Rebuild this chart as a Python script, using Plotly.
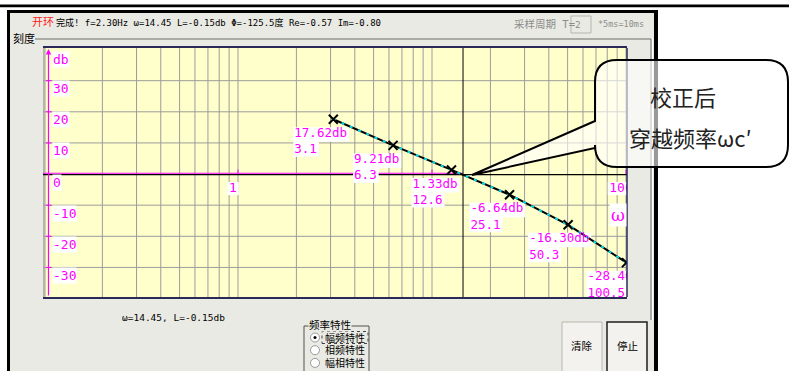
import plotly.graph_objects as go

W, H = 789, 371

# ---------------- data ----------------
omega = [3.1, 6.3, 12.6, 25.1, 50.3, 100.5]          # rad/s
gain_db = [17.62, 9.21, 1.33, -6.64, -16.30, -28.46]  # dB
y_ticks = [30, 20, 10, 0, -10, -20, -30]
x_grid = [0.1, 0.2, 0.3, 0.4, 0.5, 0.6, 0.7, 0.8, 0.9,
          1, 2, 3, 4, 5, 6, 7, 8, 9,
          10, 20, 30, 40, 50, 60, 70, 80, 90, 100]
x_label_vals = [1, 100]
x_tick_marks = [1, 10, 100]
wc = 14.45          # crossover frequency (cursor)
Lc = -0.15          # gain at cursor
f_hz = 2.30
phi_deg = -125.5
re_val = -0.57
im_val = -0.80
T_sample = 2
radio_items = ["幅频特性", "相频特性", "幅相特性"]

# ---------------- geometry ----------------
PL, PR, PT, PB = 43, 627, 48, 297
XR = [-1.005, 2.005]
YR = [-39.5, 40.5]
ppd = (PR - PL) / (XR[1] - XR[0])
ppu = (PB - PT) / (YR[1] - YR[0])
XMIN, XMAX = 10 ** XR[0], 10 ** XR[1]


def PX(x):
    return x / W


def PY(y):
    return 1 - y / H


def sx(w, dx):
    return w * 10 ** (dx / ppd)


def sy(v, dy):
    return v + dy / ppu


MAG = "#FF00FF"
MONO = "DejaVu Sans Mono"
CJK = "DejaVu Sans Mono, Noto Sans CJK SC"
WIN = "#EAEAE4"
GRID = "#9C9C9C"
LFS = 12.5                 # label font size
CHW = 0.602 * LFS          # mono char width

shapes = []
annos = []


def prect(x0, y0, x1, y1, fill=None, line=None, lw=1, layer="below", dash=None):
    d = dict(type="rect", xref="paper", yref="paper",
             x0=PX(x0), x1=PX(x1), y0=PY(y1), y1=PY(y0), layer=layer,
             fillcolor=fill if fill else "rgba(0,0,0,0)",
             line=dict(color=line if line else "rgba(0,0,0,0)", width=lw if line else 0))
    if dash:
        d["line"]["dash"] = dash
    shapes.append(d)


def pline(x0, y0, x1, y1, color, lw=1, layer="below"):
    shapes.append(dict(type="line", xref="paper", yref="paper",
                       x0=PX(x0), x1=PX(x1), y0=PY(y0), y1=PY(y1),
                       line=dict(color=color, width=lw), layer=layer))


def ptext(x, y, text, size=11, color="#000", family=CJK, xanchor="left", bg=None):
    a = dict(xref="paper", yref="paper", x=PX(x), y=PY(y), text=text, showarrow=False,
             xanchor=xanchor, yanchor="middle",
             font=dict(family=family, size=size, color=color), borderpad=0)
    if bg:
        a["bgcolor"] = bg
    annos.append(a)


def drect(xa, ya, dx0, dx1, dy0, dy1, fill="#FFFFFF"):
    """white box around a data anchor, offsets in pixels (dy positive = up)"""
    shapes.append(dict(type="rect", xref="x", yref="y",
                       x0=sx(xa, dx0), x1=sx(xa, dx1), y0=sy(ya, dy0), y1=sy(ya, dy1),
                       fillcolor=fill, line=dict(width=0), layer="below"))


# ---------------- window chrome ----------------
prect(0, 4.5, W, 7.2, fill="#000")
prect(7, 10, 658, H + 5, fill="#000")
prect(10, 13, 654, H + 5, fill=WIN)
prect(PL, PT, PR, PB, fill="#FFFFCC")
prect(PL, PT, PL + 3, PB, fill="#CFCFB8")
# group box "刻度"
pline(35, 39, 651, 39, "#6a6a6a", 1)
pline(651, 39, 651, 320, "#6a6a6a", 1)
pline(652.5, 39, 652.5, 320, "#FFFFFF", 1)
ptext(12, 39, "刻度", size=11)

# status line
ptext(31, 23, "开环", size=11, color="#FF2020")
status = (f"完成! f={f_hz:.2f}Hz ω={wc:.2f} L={Lc:.2f}db "
          f"Φ={phi_deg:.1f}度 Re={re_val:.2f} Im={im_val:.2f}")
ptext(55, 23, status, size=9, color="#000")
ptext(513, 24, "采样周期 T=", size=10.5, color="#8C8C8C")
prect(571, 16, 591, 33, fill=WIN, line="#B5B5B0", lw=1)
ptext(574, 24, str(T_sample), size=9.5, color="#8C8C8C", family=MONO)
ptext(597, 24, f"*5ms={5 * T_sample}ms", size=8.5, color="#8C8C8C", family=MONO)

# bottom readout
ptext(121, 317, f"ω={wc:.2f}, L={Lc:.2f}db", size=9.5, family=MONO)

# group box 频率特性
pline(304, 326, 369, 326, "#505050", 1)
pline(304, 326, 304, H + 2, "#505050", 1)
pline(369, 326, 369, H + 2, "#505050", 1)
ptext(308, 325, "频率特性", size=10.5, bg=WIN)
for i, t in enumerate(radio_items):
    cy = 337.5 + i * 12.7
    shapes.append(dict(type="circle", xref="paper", yref="paper",
                       x0=PX(310.5), x1=PX(319.5), y0=PY(cy + 4.5), y1=PY(cy - 4.5),
                       fillcolor="#FFFFFF", line=dict(color="#9A9A9A", width=1), layer="below"))
    if i == 0:
        shapes.append(dict(type="circle", xref="paper", yref="paper",
                           x0=PX(313.5), x1=PX(316.5), y0=PY(cy + 1.5), y1=PY(cy - 1.5),
                           fillcolor="#000", line=dict(width=0), layer="below"))
    ptext(324, cy, t, size=10)
prect(322, 331.5, 368, 343.5, line="#444", lw=1, dash="dot")

# buttons
prect(562, 322, 602, H + 3, fill="#F3F2EE", line="#B8B8B0", lw=1)
prect(607, 322, 647, H + 3, fill="#F3F2EE", line="#1E1E1E", lw=1.5)
ptext(582, 346, "清除", size=10.5, xanchor="center")
ptext(627, 346, "停止", size=10.5, xanchor="center")

# ---------------- plot-area shapes (subplot layer, clipped) ----------------
for g in x_grid:
    shapes.append(dict(type="line", xref="x", yref="y", x0=g, x1=g, y0=YR[0], y1=YR[1],
                       line=dict(color=GRID, width=1), layer="below"))
for v in y_ticks:
    if v != 0:
        shapes.append(dict(type="line", xref="x", yref="y", x0=XMIN, x1=XMAX, y0=v, y1=v,
                           line=dict(color=GRID, width=1), layer="below"))
# 0 dB reference line (black) and magenta x axis up to the cursor
shapes.append(dict(type="line", xref="x", yref="y", x0=XMIN, x1=XMAX,
                   y0=sy(0, -0.6), y1=sy(0, -0.6),
                   line=dict(color="#000", width=1.2), layer="below"))
shapes.append(dict(type="line", xref="x", yref="y", x0=XMIN, x1=wc,
                   y0=sy(0, 0.8), y1=sy(0, 0.8),
                   line=dict(color=MAG, width=1), layer="below"))
for t in x_tick_marks:
    shapes.append(dict(type="line", xref="x", yref="y", x0=t, x1=t,
                       y0=0, y1=sy(0, 4.5),
                       line=dict(color=MAG, width=1), layer="below"))
# cursor line at crossover
shapes.append(dict(type="line", xref="x", yref="y", x0=wc, x1=wc, y0=YR[0], y1=YR[1],
                   line=dict(color="#000", width=1), layer="below"))

# label backgrounds (one box per text line)
gain_txt = [f"{v:.2f}db" for v in gain_db]
omega_txt = [f"{w:g}" for w in omega]
label_txt = [f"{g}<br>{o}" for g, o in zip(gain_txt, omega_txt)]
for w, L, g, o in zip(omega, gain_db, gain_txt, omega_txt):
    drect(w, L, -40, -40 + len(g) * CHW + 3, -8, -22.5)
    drect(w, L, -40, -40 + len(o) * CHW + 3, -22.5, -37.5)
for t in x_label_vals:
    s = str(t)
    drect(t, 0, -5 - len(s) * CHW / 2 - 2, -5 + len(s) * CHW / 2 + 2, -8, -21)

# ---------------- axis decorations ----------------
pline(PR, PT, PR, PB, "#2A2A58", 1.5, layer="above")
annos.append(dict(xref="paper", yref="paper", x=PX(48.5), y=PY(PT + 1), ax=0, ay=PB - PT - 1,
                  text="", showarrow=True,
                  arrowhead=2, arrowsize=0.9, arrowwidth=1.2, arrowcolor=MAG))
for v in y_ticks:
    if v != 0:
        shapes.append(dict(type="line", xref="paper", yref="y", x0=PX(46), x1=PX(51.5),
                           y0=v, y1=v, line=dict(color=MAG, width=1), layer="above"))
    annos.append(dict(xref="paper", yref="y", x=PX(52), y=v, yshift=-8, text=str(v),
                      showarrow=False, xanchor="left", yanchor="middle", bgcolor="#FFFFFF",
                      borderpad=0, font=dict(family=MONO, size=13, color=MAG)))
annos.append(dict(xref="paper", yref="paper", x=PX(52), y=PY(60), text="db",
                  showarrow=False, xanchor="left", yanchor="middle", bgcolor="#FFFFFF",
                  borderpad=0, font=dict(family=MONO, size=13, color=MAG)))
annos.append(dict(xref="paper", yref="paper", x=PX(627), y=PY(215), text="ω",
                  showarrow=False, xanchor="right", yanchor="middle", bgcolor="#FFFFFF",
                  borderpad=1, font=dict(family="DejaVu Serif", size=17, color=MAG)))

# ---------------- callout bubble ----------------
L_, T_, R_, B_, r = 595, 60, 788, 167, 22
tip = (472, 175)


def P(x, y):
    return f"{PX(x):.5f},{PY(y):.5f}"


path = (f"M{P(L_, T_ + r)} Q{P(L_, T_)} {P(L_ + r, T_)} L{P(R_ - r, T_)} "
        f"Q{P(R_, T_)} {P(R_, T_ + r)} L{P(R_, B_ - r)} Q{P(R_, B_)} {P(R_ - r, B_)} "
        f"L{P(L_ + r, B_)} Q{P(L_, B_)} {P(L_, B_ - r)} L{P(L_, 148)} L{P(*tip)} "
        f"L{P(L_, 121)} Z")
shapes.append(dict(type="path", xref="paper", yref="paper", path=path,
                   fillcolor="rgba(255,255,255,0.6)", line=dict(color="#000", width=2),
                   layer="above"))
annos.append(dict(xref="paper", yref="paper", x=PX(683), y=PY(96), text="校正后",
                  showarrow=False, xanchor="center", yanchor="middle",
                  font=dict(family="Noto Sans CJK SC", size=22, color="#222")))
annos.append(dict(xref="paper", yref="paper", x=PX(690), y=PY(137), text="穿越频率ωc′",
                  showarrow=False, xanchor="center", yanchor="middle",
                  font=dict(family="Noto Sans CJK SC", size=22, color="#222")))

# ---------------- traces ----------------
fig = go.Figure()
fig.add_trace(go.Scatter(x=omega, y=gain_db, mode="lines",
                         line=dict(color="#000", width=2), hoverinfo="skip"))
fig.add_trace(go.Scatter(x=omega, y=gain_db, mode="lines",
                         line=dict(color="#00E0F0", width=2, dash="3px,6px"), hoverinfo="skip"))
fig.add_trace(go.Scatter(x=omega, y=gain_db, mode="markers",
                         marker=dict(symbol="x-thin", size=9, line=dict(color="#000", width=2)),
                         hoverinfo="skip"))
fig.add_trace(go.Scatter(x=[sx(w, -39) for w in omega], y=[sy(L, -22.7) for L in gain_db],
                         mode="text", text=label_txt, textposition="middle right",
                         textfont=dict(family=MONO, size=LFS, color=MAG), cliponaxis=True,
                         hoverinfo="skip"))
fig.add_trace(go.Scatter(x=[sx(t, -5) for t in x_label_vals], y=[sy(0, -14.5)] * len(x_label_vals),
                         mode="text", text=[str(t) for t in x_label_vals],
                         textposition="middle center",
                         textfont=dict(family=MONO, size=13, color=MAG), cliponaxis=True,
                         hoverinfo="skip"))

fig.update_layout(
    width=W, height=H, margin=dict(l=0, r=0, t=0, b=0),
    paper_bgcolor="#FFFFFF", plot_bgcolor="#FFFFCC", showlegend=False,
    shapes=shapes, annotations=annos,
    xaxis=dict(type="log", range=XR, domain=[PX(PL), PX(PR)], showticklabels=False,
               ticks="", showgrid=False, showline=True, linecolor="#2A2A58",
               linewidth=1.5, mirror=True, zeroline=False, fixedrange=True),
    yaxis=dict(range=YR, domain=[PY(PB), PY(PT)], showticklabels=False, ticks="",
               showgrid=False, zeroline=False, showline=False, fixedrange=True),
)

fig.write_html("out.html")
